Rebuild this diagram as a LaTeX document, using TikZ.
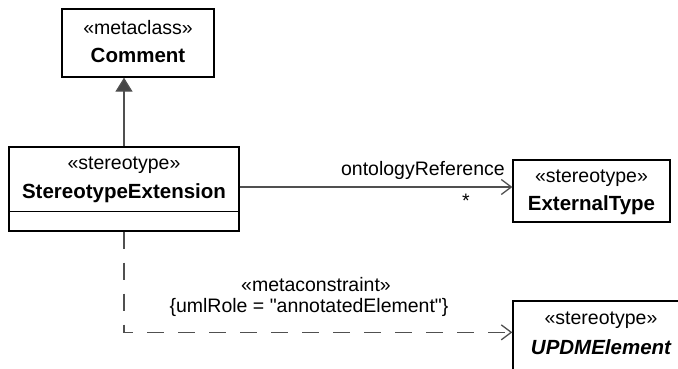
\documentclass[tikz,border=0pt]{standalone}
\usepackage{fontspec}
\newfontfamily\lsans{Liberation Sans}
\usetikzlibrary{arrows.meta}
\definecolor{linegray}{HTML}{505050}
\definecolor{headgray}{HTML}{454545}
\newcommand{\diafont}{\lsans\fontsize{19.5}{22}\selectfont}
\newcommand{\diabold}{\lsans\fontsize{20.5}{23}\selectfont\bfseries}
\tikzset{
  umlbox/.style={draw=black, line width=1.3pt, fill=white, inner sep=0pt},
  stereo/.style={inner sep=0pt, text=black, font=\diafont},
  cname/.style={inner sep=0pt, text=black, font=\diabold},
  general/.style={draw=linegray, line width=1.3pt, -{Triangle[length=14pt,width=17pt,fill=headgray]}},
  assoc/.style={draw=linegray, line width=1.3pt, -{Straight Barb[length=10pt,width=15pt,line width=1.3pt]}},
  dep/.style={draw=linegray, line width=1.3pt, dash pattern=on 17pt off 14pt, -{Straight Barb[length=10pt,width=15pt,line width=1.3pt]}},
  lbl/.style={inner sep=0pt, text=black, font=\diafont}
}
\begin{document}
\begin{tikzpicture}[x=1pt,y=-1pt]
\useasboundingbox (0,0) rectangle (678,368);
\clip (0,0) rectangle (678,368);
% Comment
\node[umlbox, minimum width=152pt, minimum height=68pt] (comment) at (138,43) {};
\node[stereo] (commentS) at (138,28) {«metaclass»};
\node[cname] (commentN) at (138,55) {Comment};
% StereotypeExtension
\node[umlbox, minimum width=230pt, minimum height=84pt] (se) at (124,189) {};
\draw[line width=1.3pt] ([yshift=20pt]se.south west) -- ([yshift=20pt]se.south east);
\node[stereo] (seS) at (124,165) {«stereotype»};
\node[cname] (seN) at (124,193) {StereotypeExtension};
% ExternalType
\node[umlbox, minimum width=157pt, minimum height=62pt] (ext) at (591.5,191) {};
\node[stereo] (extS) at (591.5,178) {«stereotype»};
\node[cname] (extN) at (591.5,205) {ExternalType};
% UPDMElement
\node[umlbox, minimum width=176pt, minimum height=90pt] (upd) at (601,346) {};
\node[stereo] (updS) at (601,320) {«stereotype»};
\node[cname, font=\diabold\itshape] (updN) at (601,347) {UPDMElement};
% connectors
\draw[general] (se.north) -- (se.north |- comment.south);
\draw[assoc] ([yshift=2pt]se.east) -- ([yshift=2pt]se.east -| ext.west);
\node[lbl, anchor=east] (role) at (505,170) {ontologyReference};
\node[lbl] (mult) at (466,201) {*};
\coordinate (updin) at ([yshift=-32pt]upd.north west);
\draw[dep] (se.south) |- (updin);
\node[lbl] (mc) at (316,285) {«metaconstraint»};
\node[lbl] (role2) at (309,307) {\{umlRole = "annotatedElement"\}};
\end{tikzpicture}
\end{document}
